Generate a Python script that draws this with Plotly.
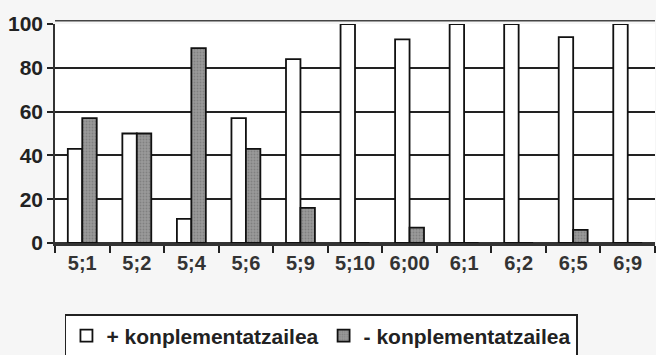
import plotly.graph_objects as go

categories = ["5;1", "5;2", "5;4", "5;6", "5;9", "5;10", "6;00", "6;1", "6;2", "6;5", "6;9"]
plus_vals = [43, 50, 11, 57, 84, 100, 93, 100, 100, 94, 100]
minus_vals = [57, 50, 89, 43, 16, 0, 7, 0, 0, 6, 0]
y_ticks = [0, 20, 40, 60, 80, 100]

fig = go.Figure()
fig.add_trace(go.Bar(
    x=categories, y=plus_vals, name="+ konplementatzailea",
    marker=dict(color="white", line=dict(color="#111", width=1.8)),
))
fig.add_trace(go.Bar(
    x=categories, y=minus_vals, name="- konplementatzailea",
    marker=dict(color="#8a8a8a", line=dict(color="#111", width=1.8),
                pattern=dict(shape=".", size=3, solidity=0.3, fgcolor="#666666", bgcolor="#9a9a9a")),
))

fam = "Liberation Sans, Arial, sans-serif"
fig.update_layout(
    width=656, height=355,
    margin=dict(l=55, r=1, t=24, b=112, autoexpand=False),
    paper_bgcolor="#f6f6f6", plot_bgcolor="white",
    barmode="group", bargap=0.47, bargroupgap=0.0,
    font=dict(family=fam, color="#222"),
    xaxis=dict(
        automargin=False,
        showgrid=False, ticks="outside", tickson="boundaries", ticklen=7, tickwidth=1.5,
        tickcolor="#222", showline=True, linecolor="#333", linewidth=3,
        tickfont=dict(size=20, family=fam, weight="bold", color="#333"),
    ),
    yaxis=dict(
        automargin=False,
        range=[0, 100], tickvals=y_ticks, showgrid=True, gridcolor="#222", gridwidth=1.5,
        ticks="outside", ticklen=6, tickwidth=1.5, tickcolor="#222",
        showline=True, linecolor="#333", linewidth=1.5, mirror=False,
        tickfont=dict(size=21, family=fam, weight="bold", color="#222"),
        zeroline=True, zerolinecolor="#333", zerolinewidth=3,
    ),
    legend=dict(
        orientation="h", xref="container", yref="container",
        x=0.099, y=(355 - 314) / 355, xanchor="left", yanchor="top",
        bordercolor="#222", borderwidth=1.5, bgcolor="white",
        font=dict(size=21, family=fam, weight="bold", color="#222"),
        itemwidth=30, tracegroupgap=0,
    ),
    showlegend=True,
)
fig.add_shape(type="line", xref="paper", yref="paper", x0=0, x1=1, y0=1.015, y1=1.015,
              line=dict(color="#444", width=1.5))
fig.write_html("out.html", config={"displayModeBar": False},
               post_script="document.body.style.margin='0';document.body.style.overflow='hidden';")
